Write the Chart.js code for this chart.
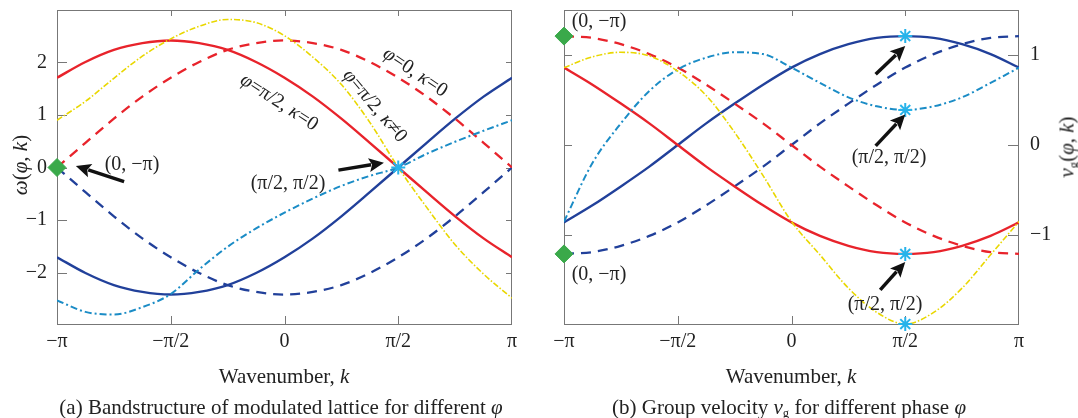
<!DOCTYPE html>
<html>
<head>
<meta charset="utf-8">
<script src="https://cdn.jsdelivr.net/npm/chart.js@4.4.1/dist/chart.umd.min.js"></script>
<style>
html, body { margin: 0; padding: 0; background: #fff; }
#wrap { position: relative; width: 1078px; height: 418px; overflow: hidden;
  font-family: "Liberation Serif", "Times New Roman", serif; color: #222; }
canvas { position: absolute; top: 0; }
.t { position: absolute; white-space: nowrap; line-height: 1; transform: translate(-50%, -50%); }
.s20 { font-size: 20px; }
.s21 { font-size: 21px; }
sub { font-size: 0.6em; vertical-align: -0.3em; line-height: 0; }
</style>
</head>
<body>
<div id="wrap">
  <canvas id="chartA" width="540" height="418" style="left:0"></canvas>
  <canvas id="chartB" width="538" height="418" style="left:540px"></canvas>

  <!-- panel (a) text -->
  <div class="t s21" style="left:20px;top:165px;transform:translate(-50%,-50%) rotate(-90deg)"><i>ω</i>(<i>φ</i>, <i>k</i>)</div>
  <div class="t s20" style="left:132px;top:163px">(0, −π)</div>
  <div class="t s20" style="left:288px;top:182px">(π/2, π/2)</div>
  <div class="t s20" style="left:280px;top:101px;transform:translate(-50%,-50%) rotate(33deg)"><i>φ</i>=π/2, <i>κ</i>=0</div>
  <div class="t s20" style="left:376px;top:105px;transform:translate(-50%,-50%) rotate(50deg)"><i>φ</i>=π/2, <i>κ</i>≠0</div>
  <div class="t s20" style="left:416px;top:71px;transform:translate(-50%,-50%) rotate(34deg)"><i>φ</i>=0, <i>κ</i>=0</div>
  <div class="t s21" style="left:284px;top:376px">Wavenumber, <i>k</i></div>
  <div class="t s21" style="left:281px;top:407px">(a) Bandstructure of modulated lattice for different <i>φ</i></div>

  <!-- panel (b) text -->
  <div class="t s21" style="left:1067px;top:147px;transform:translate(-50%,-50%) rotate(-90deg)"><i>v</i><sub>g</sub>(<i>φ</i>, <i>k</i>)</div>
  <div class="t s20" style="left:599px;top:20px">(0, −π)</div>
  <div class="t s20" style="left:599px;top:273px">(0, −π)</div>
  <div class="t s20" style="left:889px;top:156px">(π/2, π/2)</div>
  <div class="t s20" style="left:885px;top:303px">(π/2, π/2)</div>
  <div class="t s21" style="left:791px;top:376px">Wavenumber, <i>k</i></div>
  <div class="t s21" style="left:789px;top:407px">(b) Group velocity <i>v</i><sub>g</sub> for different phase <i>φ</i></div>
</div>

<script>
// ====== DATA ======
// wavenumber samples, in units of pi
const K_PI = [-1, -0.875, -0.75, -0.625, -0.5, -0.375, -0.25, -0.125, 0,
  0.125, 0.25, 0.375, 0.5, 0.625, 0.75, 0.875, 1];

const X_TICKS = [-1, -0.5, 0, 0.5, 1];
const X_TICK_LABELS = ["−π", "−π/2", "0", "π/2", "π"];
const OMEGA_TICKS = [-2, -1, 0, 1, 2];
const VG_TICKS = [-1, 0, 1];

// (a) band structure omega(phi, k)
const omegaRedSolid  = [1.71, 2.01, 2.24, 2.37, 2.42, 2.37, 2.24, 2.01, 1.71, 1.35, 0.93, 0.47, 0, -0.47, -0.93, -1.35, -1.71];
const omegaRedDash   = [0, 0.47, 0.93, 1.35, 1.71, 2.01, 2.24, 2.37, 2.42, 2.37, 2.24, 2.01, 1.71, 1.35, 0.93, 0.47, 0];
const omegaBlueSolid = [-1.71, -2.01, -2.24, -2.37, -2.42, -2.37, -2.24, -2.01, -1.71, -1.35, -0.93, -0.47, 0, 0.47, 0.93, 1.35, 1.71];
const omegaBlueDash  = [0, -0.47, -0.93, -1.35, -1.71, -2.01, -2.24, -2.37, -2.42, -2.37, -2.24, -2.01, -1.71, -1.35, -0.93, -0.47, 0];
const omegaYellow    = [0.90, 1.26, 1.70, 2.12, 2.45, 2.69, 2.82, 2.76, 2.51, 2.10, 1.58, 0.86, 0, -0.76, -1.47, -2.03, -2.49];
const omegaCyan      = [-2.53, -2.75, -2.80, -2.66, -2.41, -1.94, -1.51, -1.16, -0.86, -0.59, -0.35, -0.16, 0, 0.26, 0.49, 0.70, 0.90];

// (b) group velocity vg(phi, k)
const vgRedSolid  = [0.86, 0.67, 0.46, 0.24, 0, -0.24, -0.46, -0.67, -0.86, -1.01, -1.12, -1.19, -1.21, -1.19, -1.12, -1.01, -0.86];
const vgRedDash   = [1.21, 1.19, 1.12, 1.01, 0.86, 0.67, 0.46, 0.24, 0, -0.24, -0.46, -0.67, -0.86, -1.01, -1.12, -1.19, -1.21];
const vgBlueSolid = [-0.86, -0.67, -0.46, -0.24, 0, 0.24, 0.46, 0.67, 0.86, 1.01, 1.12, 1.19, 1.21, 1.19, 1.12, 1.01, 0.86];
const vgBlueDash  = [-1.21, -1.19, -1.12, -1.01, -0.86, -0.67, -0.46, -0.24, 0, 0.24, 0.46, 0.67, 0.86, 1.01, 1.12, 1.19, 1.21];
const vgYellow    = [0.86, 0.98, 1.03, 0.99, 0.82, 0.55, 0.14, -0.34, -0.85, -1.22, -1.59, -1.86, -1.99, -1.86, -1.59, -1.22, -0.85];
const vgCyan      = [-0.85, -0.20, 0.24, 0.60, 0.84, 0.97, 1.03, 1.01, 0.86, 0.69, 0.53, 0.43, 0.39, 0.43, 0.53, 0.69, 0.86];

// marked points [k/pi, value]
const omegaDiamonds = [[-1, 0]];
const omegaStars = [[0.5, 0]];
const vgDiamonds = [[-1, 1.21], [-1, -1.21]];
const vgStars = [[0.5, 1.21], [0.5, 0.39], [0.5, -1.21], [0.5, -1.99]];

// arrows [tailK, tailV, tipK, tipV]
const omegaArrows = [[-0.705, -0.27, -0.917, 0.03], [0.237, -0.05, 0.437, 0.09]];
const vgArrows = [[0.37, 0.785, 0.5, 1.10], [0.37, -0.01, 0.5, 0.34], [0.39, -1.61, 0.5, -1.30]];

// ====== STYLE ======
const RED = "#e8232b";
const BLUE = "#21409a";
const YELLOW = "#e9d700";
const CYAN = "#1b8cc6";
const GREEN = "#3aa94a";
const STAR = "#27b3ea";
const FONT = "'Liberation Serif', 'Times New Roman', serif";

Chart.defaults.font.family = FONT;
Chart.defaults.color = "#222";

function curve(values, color, dash, width) {
  return {
    data: K_PI.map((k, i) => ({ x: k, y: values[i] })),
    borderColor: color,
    borderWidth: width,
    borderDash: dash,
    pointRadius: 0,
    fill: false,
    cubicInterpolationMode: "monotone"
  };
}

function markers(points, style, color, radius) {
  return {
    data: points.map(p => ({ x: p[0], y: p[1] })),
    showLine: false,
    pointStyle: style,
    pointRadius: radius,
    pointBorderWidth: style === "star" ? 2 : 1,
    pointBackgroundColor: color,
    pointBorderColor: color,
    clip: false
  };
}

function drawArrow(ctx, x0, y0, x1, y1) {
  const ang = Math.atan2(y1 - y0, x1 - x0);
  const hl = 15, hw = 7;
  const bx = x1 - hl * Math.cos(ang), by = y1 - hl * Math.sin(ang);
  ctx.strokeStyle = "#111";
  ctx.fillStyle = "#111";
  ctx.lineWidth = 3.5;
  ctx.beginPath();
  ctx.moveTo(x0, y0);
  ctx.lineTo(bx + 2 * Math.cos(ang), by + 2 * Math.sin(ang));
  ctx.stroke();
  ctx.beginPath();
  ctx.moveTo(x1, y1);
  ctx.lineTo(bx + hw * Math.sin(ang), by - hw * Math.cos(ang));
  ctx.lineTo(bx + 3 * Math.cos(ang), by + 3 * Math.sin(ang));
  ctx.lineTo(bx - hw * Math.sin(ang), by + hw * Math.cos(ang));
  ctx.closePath();
  ctx.fill();
}

// frame with inward ticks + arrows
const framePlugin = {
  id: "frame",
  beforeDatasetsDraw(chart) {
    const o = chart.options.plugins.frame;
    const { ctx, chartArea: a, scales } = chart;
    ctx.save();
    ctx.strokeStyle = "#777";
    ctx.lineWidth = 1;
    ctx.strokeRect(a.left + 0.5, a.top + 0.5, a.right - a.left - 1, a.bottom - a.top - 1);
    ctx.beginPath();
    X_TICKS.slice(1, -1).forEach(v => {
      const x = Math.round(scales.x.getPixelForValue(v)) + 0.5;
      ctx.moveTo(x, a.bottom); ctx.lineTo(x, a.bottom - o.bottomLen);
      ctx.moveTo(x, a.top); ctx.lineTo(x, a.top + o.topLen);
    });
    o.yTicks.forEach(v => {
      const y = Math.round(scales.y.getPixelForValue(v)) + 0.5;
      ctx.moveTo(a.left, y); ctx.lineTo(a.left + o.leftLen, y);
      ctx.moveTo(a.right, y); ctx.lineTo(a.right - o.rightLen, y);
    });
    ctx.stroke();
    ctx.restore();
  },
  afterDatasetsDraw(chart) {
    const o = chart.options.plugins.frame;
    const { ctx, scales } = chart;
    ctx.save();
    o.arrows.forEach(r => {
      drawArrow(ctx,
        scales.x.getPixelForValue(r[0]), scales.y.getPixelForValue(r[1]),
        scales.x.getPixelForValue(r[2]), scales.y.getPixelForValue(r[3]));
    });
    ctx.restore();
  }
};

const noGrid = { display: false, drawTicks: false, tickLength: 0 };

function xScale() {
  return {
    type: "linear", min: -1, max: 1,
    grid: noGrid, border: { display: false },
    afterBuildTicks: s => { s.ticks = X_TICKS.map(v => ({ value: v })); },
    ticks: {
      callback: (v, i) => X_TICK_LABELS[i],
      font: { size: 20, family: FONT }, color: "#222",
      padding: 5, maxRotation: 0, autoSkip: false
    },
    afterFit: s => { s.height = 93; s.paddingLeft = 0; s.paddingRight = 0; }
  };
}

function fmtNum(v) { return v < 0 ? "−" + Math.abs(v) : String(v); }

function baseOptions() {
  return {
    responsive: false,
    animation: false,
    events: [],
    plugins: { legend: { display: false }, tooltip: { enabled: false }, title: { display: false } }
  };
}

// ====== (a) band structure ======
const optsA = baseOptions();
optsA.layout = { padding: { left: 0, top: 7, right: 28, bottom: 0 } };
optsA.plugins.frame = { yTicks: OMEGA_TICKS, bottomLen: 9, topLen: 6, leftLen: 10, rightLen: 6, arrows: omegaArrows };
optsA.scales = {
  x: xScale(),
  y: {
    type: "linear", min: -3, max: 3,
    grid: noGrid, border: { display: false },
    afterBuildTicks: s => { s.ticks = OMEGA_TICKS.map(v => ({ value: v })); },
    ticks: { callback: v => fmtNum(v), font: { size: 20, family: FONT }, color: "#222", padding: 10 },
    afterFit: s => { s.width = 57; s.paddingTop = 0; s.paddingBottom = 0; }
  }
};

new Chart(document.getElementById("chartA"), {
  type: "line",
  data: {
    datasets: [
      markers(omegaDiamonds, "rectRot", GREEN, 9),
      markers(omegaStars, "star", STAR, 7),
      curve(omegaYellow, YELLOW, [6, 2, 1.5, 2], 1.6),
      curve(omegaCyan, CYAN, [7, 3, 2, 3], 2),
      curve(omegaRedSolid, RED, [], 2.4),
      curve(omegaRedDash, RED, [10, 7], 2.3),
      curve(omegaBlueSolid, BLUE, [], 2.4),
      curve(omegaBlueDash, BLUE, [10, 7], 2.3)
    ]
  },
  options: optsA,
  plugins: [framePlugin]
});

// ====== (b) group velocity ======
const optsB = baseOptions();
optsB.layout = { padding: { left: 24, top: 7, right: 0, bottom: 0 } };
optsB.plugins.frame = { yTicks: VG_TICKS, bottomLen: 9, topLen: 6, leftLen: 8, rightLen: 11, arrows: vgArrows };
optsB.scales = {
  x: xScale(),
  y: {
    type: "linear", position: "right", min: -2, max: 1.5,
    grid: noGrid, border: { display: false },
    afterBuildTicks: s => { s.ticks = VG_TICKS.map(v => ({ value: v })); },
    ticks: { callback: v => fmtNum(v), font: { size: 20, family: FONT }, color: "#222", padding: 11 },
    afterFit: s => { s.width = 59; s.paddingTop = 0; s.paddingBottom = 0; }
  }
};

new Chart(document.getElementById("chartB"), {
  type: "line",
  data: {
    datasets: [
      markers(vgDiamonds, "rectRot", GREEN, 9),
      markers(vgStars, "star", STAR, 7),
      curve(vgYellow, YELLOW, [6, 2, 1.5, 2], 1.6),
      curve(vgCyan, CYAN, [7, 3, 2, 3], 2),
      curve(vgRedSolid, RED, [], 2.4),
      curve(vgRedDash, RED, [10, 7], 2.3),
      curve(vgBlueSolid, BLUE, [], 2.4),
      curve(vgBlueDash, BLUE, [10, 7], 2.3)
    ]
  },
  options: optsB,
  plugins: [framePlugin]
});
</script>
</body>
</html>
